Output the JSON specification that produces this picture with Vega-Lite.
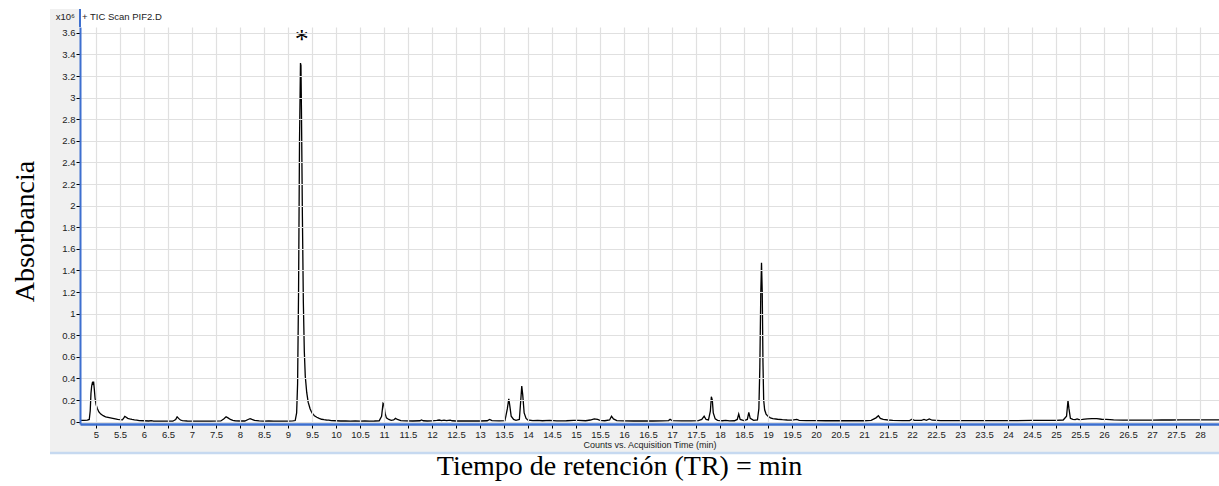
{
  "$schema": "https://vega.github.io/schema/vega-lite/v6.json",
  "width": 1139,
  "height": 397,
  "autosize": "none",
  "padding": {"left": 80, "top": 27, "right": 0, "bottom": 62},
  "background": "white",
  "config": {
    "view": {"stroke": null},
    "font": "Liberation Sans"
  },
  "title": {
    "text": "Tiempo de retención (TR) = min",
    "orient": "bottom",
    "anchor": "middle",
    "frame": "group",
    "font": "Liberation Serif",
    "fontSize": 28,
    "fontWeight": "normal",
    "color": "#000000",
    "offset": -1,
    "dx": -30
  },
  "datasets": {
    "tic": [
      {"t": 4.67, "c": 0.012}, {"t": 4.75, "c": 0.012}, {"t": 4.82, "c": 0.013}, {"t": 4.86, "c": 0.02},
      {"t": 4.88, "c": 0.1}, {"t": 4.895, "c": 0.26}, {"t": 4.91, "c": 0.33}, {"t": 4.925, "c": 0.36},
      {"t": 4.94, "c": 0.35}, {"t": 4.95, "c": 0.37}, {"t": 4.965, "c": 0.3}, {"t": 4.98, "c": 0.22},
      {"t": 5.0, "c": 0.16}, {"t": 5.03, "c": 0.12}, {"t": 5.06, "c": 0.09}, {"t": 5.1, "c": 0.07},
      {"t": 5.15, "c": 0.055}, {"t": 5.2, "c": 0.045}, {"t": 5.25, "c": 0.04}, {"t": 5.3, "c": 0.035},
      {"t": 5.35, "c": 0.03}, {"t": 5.4, "c": 0.025}, {"t": 5.45, "c": 0.02}, {"t": 5.5, "c": 0.018},
      {"t": 5.55, "c": 0.017}, {"t": 5.58, "c": 0.035}, {"t": 5.6, "c": 0.048}, {"t": 5.63, "c": 0.04},
      {"t": 5.66, "c": 0.03}, {"t": 5.7, "c": 0.025}, {"t": 5.75, "c": 0.02}, {"t": 5.8, "c": 0.016},
      {"t": 5.85, "c": 0.013}, {"t": 5.9, "c": 0.01}, {"t": 6.0, "c": 0.008}, {"t": 6.1, "c": 0.006},
      {"t": 6.15, "c": 0.01}, {"t": 6.2, "c": 0.005}, {"t": 6.3, "c": 0.005}, {"t": 6.4, "c": 0.004},
      {"t": 6.5, "c": 0.004}, {"t": 6.6, "c": 0.004}, {"t": 6.66, "c": 0.02}, {"t": 6.69, "c": 0.045},
      {"t": 6.72, "c": 0.03}, {"t": 6.76, "c": 0.015}, {"t": 6.8, "c": 0.01}, {"t": 6.9, "c": 0.006},
      {"t": 7.0, "c": 0.005}, {"t": 7.2, "c": 0.004}, {"t": 7.4, "c": 0.004}, {"t": 7.6, "c": 0.006},
      {"t": 7.66, "c": 0.025}, {"t": 7.71, "c": 0.045}, {"t": 7.75, "c": 0.035}, {"t": 7.8, "c": 0.02},
      {"t": 7.85, "c": 0.012}, {"t": 7.9, "c": 0.008}, {"t": 8.0, "c": 0.006}, {"t": 8.1, "c": 0.006},
      {"t": 8.18, "c": 0.022}, {"t": 8.21, "c": 0.028}, {"t": 8.25, "c": 0.02}, {"t": 8.3, "c": 0.012},
      {"t": 8.4, "c": 0.007}, {"t": 8.5, "c": 0.005}, {"t": 8.6, "c": 0.006}, {"t": 8.7, "c": 0.005},
      {"t": 8.8, "c": 0.004}, {"t": 8.9, "c": 0.004}, {"t": 9.0, "c": 0.005}, {"t": 9.1, "c": 0.006},
      {"t": 9.15, "c": 0.01}, {"t": 9.18, "c": 0.08}, {"t": 9.2, "c": 0.35}, {"t": 9.22, "c": 1.2},
      {"t": 9.24, "c": 2.6}, {"t": 9.26, "c": 3.32}, {"t": 9.27, "c": 3.3}, {"t": 9.28, "c": 2.9},
      {"t": 9.3, "c": 1.9}, {"t": 9.32, "c": 1.1}, {"t": 9.34, "c": 0.65}, {"t": 9.36, "c": 0.42},
      {"t": 9.39, "c": 0.27}, {"t": 9.42, "c": 0.18}, {"t": 9.46, "c": 0.12}, {"t": 9.5, "c": 0.08},
      {"t": 9.55, "c": 0.055}, {"t": 9.6, "c": 0.04}, {"t": 9.65, "c": 0.03}, {"t": 9.7, "c": 0.022},
      {"t": 9.75, "c": 0.018}, {"t": 9.8, "c": 0.015}, {"t": 9.85, "c": 0.014}, {"t": 9.9, "c": 0.01},
      {"t": 10.0, "c": 0.008}, {"t": 10.1, "c": 0.006}, {"t": 10.2, "c": 0.006}, {"t": 10.3, "c": 0.005},
      {"t": 10.4, "c": 0.006}, {"t": 10.5, "c": 0.005}, {"t": 10.6, "c": 0.006}, {"t": 10.7, "c": 0.005},
      {"t": 10.8, "c": 0.006}, {"t": 10.9, "c": 0.008}, {"t": 10.95, "c": 0.05}, {"t": 10.98, "c": 0.17},
      {"t": 11.0, "c": 0.16}, {"t": 11.02, "c": 0.08}, {"t": 11.05, "c": 0.035}, {"t": 11.1, "c": 0.02},
      {"t": 11.15, "c": 0.012}, {"t": 11.2, "c": 0.015}, {"t": 11.24, "c": 0.03}, {"t": 11.28, "c": 0.02},
      {"t": 11.35, "c": 0.01}, {"t": 11.45, "c": 0.007}, {"t": 11.6, "c": 0.006}, {"t": 11.75, "c": 0.008},
      {"t": 11.78, "c": 0.015}, {"t": 11.82, "c": 0.008}, {"t": 11.9, "c": 0.006}, {"t": 12.0, "c": 0.007},
      {"t": 12.1, "c": 0.012}, {"t": 12.15, "c": 0.015}, {"t": 12.2, "c": 0.01}, {"t": 12.25, "c": 0.014},
      {"t": 12.3, "c": 0.009}, {"t": 12.38, "c": 0.014}, {"t": 12.42, "c": 0.008}, {"t": 12.5, "c": 0.006},
      {"t": 12.6, "c": 0.006}, {"t": 12.8, "c": 0.006}, {"t": 13.0, "c": 0.006}, {"t": 13.15, "c": 0.008},
      {"t": 13.2, "c": 0.02}, {"t": 13.25, "c": 0.01}, {"t": 13.4, "c": 0.007}, {"t": 13.52, "c": 0.01},
      {"t": 13.57, "c": 0.12}, {"t": 13.6, "c": 0.21}, {"t": 13.62, "c": 0.15}, {"t": 13.65, "c": 0.05},
      {"t": 13.7, "c": 0.02}, {"t": 13.75, "c": 0.012}, {"t": 13.82, "c": 0.02}, {"t": 13.85, "c": 0.2},
      {"t": 13.87, "c": 0.33}, {"t": 13.89, "c": 0.25}, {"t": 13.92, "c": 0.08}, {"t": 13.96, "c": 0.03},
      {"t": 14.0, "c": 0.015}, {"t": 14.1, "c": 0.01}, {"t": 14.2, "c": 0.012}, {"t": 14.3, "c": 0.008},
      {"t": 14.45, "c": 0.012}, {"t": 14.6, "c": 0.007}, {"t": 14.8, "c": 0.008}, {"t": 14.95, "c": 0.012},
      {"t": 15.05, "c": 0.012}, {"t": 15.2, "c": 0.008}, {"t": 15.3, "c": 0.015}, {"t": 15.38, "c": 0.025},
      {"t": 15.45, "c": 0.02}, {"t": 15.5, "c": 0.012}, {"t": 15.6, "c": 0.008}, {"t": 15.7, "c": 0.015},
      {"t": 15.74, "c": 0.05}, {"t": 15.78, "c": 0.025}, {"t": 15.85, "c": 0.01}, {"t": 16.0, "c": 0.007},
      {"t": 16.2, "c": 0.006}, {"t": 16.4, "c": 0.006}, {"t": 16.6, "c": 0.006}, {"t": 16.8, "c": 0.007},
      {"t": 16.93, "c": 0.01}, {"t": 16.96, "c": 0.022}, {"t": 17.0, "c": 0.01}, {"t": 17.2, "c": 0.007},
      {"t": 17.4, "c": 0.007}, {"t": 17.55, "c": 0.01}, {"t": 17.62, "c": 0.02}, {"t": 17.67, "c": 0.05},
      {"t": 17.71, "c": 0.02}, {"t": 17.76, "c": 0.015}, {"t": 17.8, "c": 0.1}, {"t": 17.82, "c": 0.23},
      {"t": 17.84, "c": 0.2}, {"t": 17.86, "c": 0.08}, {"t": 17.9, "c": 0.025}, {"t": 17.95, "c": 0.012},
      {"t": 18.05, "c": 0.008}, {"t": 18.12, "c": 0.012}, {"t": 18.2, "c": 0.007}, {"t": 18.3, "c": 0.008},
      {"t": 18.36, "c": 0.02}, {"t": 18.39, "c": 0.07}, {"t": 18.42, "c": 0.02}, {"t": 18.5, "c": 0.01},
      {"t": 18.57, "c": 0.02}, {"t": 18.6, "c": 0.085}, {"t": 18.63, "c": 0.03}, {"t": 18.7, "c": 0.012},
      {"t": 18.78, "c": 0.015}, {"t": 18.81, "c": 0.12}, {"t": 18.83, "c": 0.5}, {"t": 18.85, "c": 1.2},
      {"t": 18.865, "c": 1.47}, {"t": 18.88, "c": 1.2}, {"t": 18.895, "c": 0.55}, {"t": 18.91, "c": 0.2},
      {"t": 18.93, "c": 0.11}, {"t": 18.96, "c": 0.07}, {"t": 19.0, "c": 0.05}, {"t": 19.05, "c": 0.035},
      {"t": 19.1, "c": 0.028}, {"t": 19.2, "c": 0.022}, {"t": 19.3, "c": 0.018}, {"t": 19.4, "c": 0.015},
      {"t": 19.5, "c": 0.013}, {"t": 19.6, "c": 0.02}, {"t": 19.65, "c": 0.012}, {"t": 19.8, "c": 0.01},
      {"t": 20.0, "c": 0.009}, {"t": 20.2, "c": 0.008}, {"t": 20.4, "c": 0.008}, {"t": 20.6, "c": 0.009},
      {"t": 20.8, "c": 0.008}, {"t": 21.0, "c": 0.008}, {"t": 21.15, "c": 0.012}, {"t": 21.25, "c": 0.035},
      {"t": 21.3, "c": 0.055}, {"t": 21.34, "c": 0.03}, {"t": 21.4, "c": 0.02}, {"t": 21.5, "c": 0.015},
      {"t": 21.6, "c": 0.012}, {"t": 21.8, "c": 0.01}, {"t": 21.95, "c": 0.01}, {"t": 22.0, "c": 0.022},
      {"t": 22.05, "c": 0.012}, {"t": 22.2, "c": 0.012}, {"t": 22.25, "c": 0.02}, {"t": 22.3, "c": 0.012},
      {"t": 22.36, "c": 0.025}, {"t": 22.42, "c": 0.013}, {"t": 22.6, "c": 0.01}, {"t": 22.8, "c": 0.009},
      {"t": 23.0, "c": 0.009}, {"t": 23.3, "c": 0.009}, {"t": 23.6, "c": 0.01}, {"t": 23.9, "c": 0.01},
      {"t": 24.2, "c": 0.01}, {"t": 24.5, "c": 0.011}, {"t": 24.8, "c": 0.011}, {"t": 25.0, "c": 0.012},
      {"t": 25.15, "c": 0.015}, {"t": 25.22, "c": 0.05}, {"t": 25.25, "c": 0.195}, {"t": 25.27, "c": 0.12},
      {"t": 25.3, "c": 0.03}, {"t": 25.35, "c": 0.02}, {"t": 25.4, "c": 0.018}, {"t": 25.44, "c": 0.025},
      {"t": 25.48, "c": 0.018}, {"t": 25.55, "c": 0.02}, {"t": 25.65, "c": 0.025}, {"t": 25.75, "c": 0.027},
      {"t": 25.85, "c": 0.027}, {"t": 25.95, "c": 0.022}, {"t": 26.05, "c": 0.02}, {"t": 26.2, "c": 0.016},
      {"t": 26.4, "c": 0.014}, {"t": 26.6, "c": 0.014}, {"t": 26.8, "c": 0.013}, {"t": 27.0, "c": 0.014},
      {"t": 27.2, "c": 0.016}, {"t": 27.4, "c": 0.015}, {"t": 27.6, "c": 0.016}, {"t": 27.8, "c": 0.017},
      {"t": 28.0, "c": 0.016}, {"t": 28.2, "c": 0.016}, {"t": 28.396, "c": 0.017}
    ],
    "note": [{"t": 9.285, "c": 3.459, "label": "*"}],
    "one": [{"k": 1}]
  },
  "layer": [
    {
      "data": {"name": "tic"},
      "mark": {"type": "line", "color": "#000000", "strokeWidth": 1.3, "interpolate": "linear"},
      "encoding": {
        "x": {
          "field": "t", "type": "quantitative",
          "scale": {"domain": [4.6667, 28.396], "nice": false, "zero": false},
          "axis": {
            "title": "Counts vs. Acquisition Time (min)",
            "titleFont": "Liberation Sans", "titleFontSize": 9, "titleFontWeight": "normal", "titleColor": "#222222",
            "titlePadding": 2,
            "values": [5, 5.5, 6, 6.5, 7, 7.5, 8, 8.5, 9, 9.5, 10, 10.5, 11, 11.5, 12, 12.5, 13, 13.5, 14, 14.5, 15, 15.5, 16, 16.5, 17, 17.5, 18, 18.5, 19, 19.5, 20, 20.5, 21, 21.5, 22, 22.5, 23, 23.5, 24, 24.5, 25, 25.5, 26, 26.5, 27, 27.5, 28],
            "tickCount": 48,
            "format": "~g",
            "labelFontSize": 9.5, "labelColor": "#222222", "labelPadding": 1,
            "labelFlush": false, "labelOverlap": false,
            "tickColor": "#000000", "tickSize": 4, "tickWidth": 1,
            "domainColor": "#3d6fcf", "domainWidth": 2.5,
            "grid": true, "gridColor": "#e0e0e0", "gridWidth": 1.2,
            "zindex": 1
          }
        },
        "y": {
          "field": "c", "type": "quantitative",
          "scale": {"domain": [-0.022, 3.654], "nice": false, "zero": false},
          "axis": {
            "title": "Absorbancia",
            "titleFont": "Liberation Serif", "titleFontSize": 28, "titleFontWeight": "normal", "titleColor": "#000000",
            "titleAngle": -90, "titleAlign": "center", "titleBaseline": "alphabetic",
            "titleX": -47, "titleY": 204,
            "values": [0, 0.2, 0.4, 0.6, 0.8, 1, 1.2, 1.4, 1.6, 1.8, 2, 2.2, 2.4, 2.6, 2.8, 3, 3.2, 3.4, 3.6],
            "tickCount": 19,
            "format": "~g",
            "labelFontSize": 9.5, "labelColor": "#222222", "labelPadding": 1,
            "labelFlush": false, "labelOverlap": false,
            "tickColor": "#000000", "tickSize": 4, "tickWidth": 1,
            "domainColor": "#3d6fcf", "domainWidth": 2,
            "grid": true, "gridColor": "#e0e0e0", "gridWidth": 1.2,
            "zindex": 1
          }
        }
      }
    },
    {
      "data": {"name": "one"},
      "mark": {"type": "rect", "color": "#f0f0f0"},
      "encoding": {
        "x": {"datum": 4.0417, "type": "quantitative"},
        "x2": {"datum": 4.6667},
        "y": {"datum": -0.2815, "type": "quantitative"},
        "y2": {"datum": 3.8204}
      }
    },
    {
      "data": {"name": "one"},
      "mark": {"type": "rect", "color": "#f0f0f0"},
      "encoding": {
        "x": {"datum": 4.6667, "type": "quantitative"},
        "x2": {"datum": 28.396},
        "y": {"datum": -0.2815, "type": "quantitative"},
        "y2": {"datum": -0.022}
      }
    },
    {
      "data": {"name": "one"},
      "mark": {"type": "rule", "color": "#c6d9f0", "strokeWidth": 2.5},
      "encoding": {
        "x": {"datum": 4.0417, "type": "quantitative"},
        "x2": {"datum": 28.396},
        "y": {"datum": -0.2907, "type": "quantitative"}
      }
    },
    {
      "data": {"name": "one"},
      "mark": {"type": "rule", "color": "#3d6fcf", "strokeWidth": 2},
      "encoding": {
        "x": {"datum": 4.6667, "type": "quantitative"},
        "y": {"datum": 3.654, "type": "quantitative"},
        "y2": {"datum": 3.8204}
      }
    },
    {
      "data": {"name": "note"},
      "mark": {"type": "text", "font": "Liberation Serif", "fontSize": 28, "color": "#000000", "align": "center", "baseline": "alphabetic"},
      "encoding": {
        "x": {"field": "t", "type": "quantitative"},
        "y": {"field": "c", "type": "quantitative"},
        "text": {"field": "label"}
      }
    },
    {
      "data": {"name": "one"},
      "mark": {"type": "text", "fontSize": 9.5, "color": "#222222", "align": "right", "baseline": "middle", "text": "x10⁶"},
      "encoding": {
        "x": {"datum": 4.5625, "type": "quantitative"},
        "y": {"datum": 3.746, "type": "quantitative"}
      }
    },
    {
      "data": {"name": "one"},
      "mark": {"type": "text", "fontSize": 9.5, "color": "#222222", "align": "left", "baseline": "middle", "text": "+ TIC Scan PIF2.D"},
      "encoding": {
        "x": {"datum": 4.7083, "type": "quantitative"},
        "y": {"datum": 3.746, "type": "quantitative"}
      }
    }
  ]
}
